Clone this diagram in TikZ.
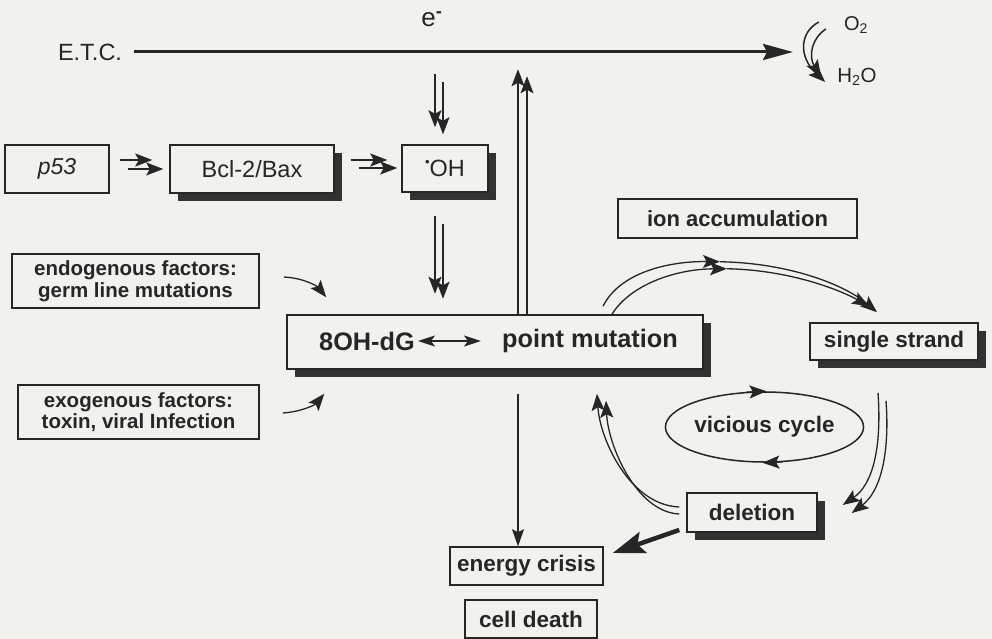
\documentclass[tikz,border=0pt]{standalone}
\usepackage{fontspec}
\setmainfont{Liberation Sans}
\usetikzlibrary{arrows.meta,shadows,calc,shapes.geometric}
\definecolor{paper}{RGB}{241,241,238}
\definecolor{ink}{RGB}{38,38,38}
\definecolor{shade}{RGB}{50,50,50}
\newcommand\bxfont{\fontsize{22.5}{24}\selectfont\bfseries}
\newcommand\bigfont{\fontsize{25.3}{27}\selectfont\bfseries}
\newcommand\twofont{\fontsize{20.5}{21.5}\selectfont\bfseries}
\newcommand\regfont{\fontsize{23.5}{25}\selectfont}
\tikzset{
  box/.style={draw=ink, line width=1.5pt, fill=paper, inner sep=0pt, text=ink, align=center},
  shbox/.style={box, drop shadow={shadow xshift=8pt, shadow yshift=-8pt, fill=shade, opacity=1}},
  lbl/.style={text=ink, inner sep=0pt},
  ar/.style={draw=ink, line width=1.3pt, -{Stealth[length=17pt,width=13pt,inset=3.5pt]}},
  thinar/.style={draw=ink, line width=1.2pt, -{Stealth[length=17pt,width=12pt,inset=3pt]}},
  bigar/.style={draw=ink, line width=3pt, -{Stealth[length=30pt,width=16pt,inset=4pt]}},
  fatar/.style={draw=ink, line width=4.5pt, -{Stealth[length=32pt,width=22pt,inset=6pt]}},
}
\begin{document}
\begin{tikzpicture}[x=1pt,y=-1pt]
\fill[paper] (0,0) rectangle (992,639);
\useasboundingbox (0,0) rectangle (992,639);

% labels
\node[lbl, font=\regfont] (etc) at (90,52) {E.T.C.};
\node[lbl, font=\fontsize{26}{28}\selectfont] (el) at (432,19) {e\textsuperscript{\bfseries -}};
\node[lbl, font=\fontsize{20}{22}\selectfont] (o2) at (856,25) {O\textsubscript{2}};
\node[lbl, font=\fontsize{20.5}{22}\selectfont] (h2o) at (857,77) {H\textsubscript{2}O};
\coordinate (etcend) at (793,52);

% boxes
\node[box, minimum width=104pt, minimum height=48pt, font=\fontsize{23}{25}\selectfont\itshape] (p53) at (57,169) {p53};
\node[shbox, minimum width=164pt, minimum height=48pt, font=\regfont] (bcl) at (252,169) {Bcl-2/Bax};
\node[shbox, minimum width=86pt, minimum height=47pt, font=\regfont] (oh) at (445,168.5) {\raisebox{0.42em}{\fontsize{13}{13}\selectfont\textbullet}OH};
\node[box, minimum width=247pt, minimum height=54pt, font=\twofont] (endo) at (135.5,281) {endogenous factors:\\germ line mutations};
\node[box, minimum width=241pt, minimum height=54pt, font=\twofont] (exo) at (138.5,412) {exogenous factors:\\toxin, viral Infection};
\node[shbox, minimum width=416pt, minimum height=54pt] (pm) at (495,342) {};
\node[lbl, font=\bigfont] (dg) at (367,341) {8OH-dG};
\node[lbl, font=\bigfont] (pmt) at (590,341) {point mutation};
\node[box, minimum width=239pt, minimum height=39pt, font=\fontsize{22}{24}\selectfont\bfseries] (ion) at (737.5,218.5) {ion accumulation};
\node[shbox, minimum width=168pt, minimum height=37pt, font=\bxfont] (ss) at (894,341.5) {single strand};
\node[box, ellipse, fill=none, minimum width=197pt, minimum height=70pt, font=\bxfont] (vc) at (764.5,427) {vicious cycle};
\node[shbox, minimum width=130pt, minimum height=39pt, font=\bxfont] (del) at (752,512.5) {deletion};
\node[box, minimum width=153pt, minimum height=38pt, font=\bxfont] (ec) at (526.5,566) {energy crisis};
\node[box, minimum width=132pt, minimum height=38pt, font=\bxfont] (cd) at (531,619) {cell death};

% E.T.C. line
\draw[bigar] ($(etc.east)+(12,0)$) -- (etcend);
% O2 -> H2O
\draw[ar, line width=1.5pt] ($(o2.west)+(-25,-3)$) .. controls (800,32) and (798,56) .. ($(h2o.west)+(-12,5)$);
\draw[ar, line width=1.5pt] ($(o2.west)+(-18,4)$) .. controls (812,38) and (808,56) .. ($(h2o.west)+(-16,0)$);

% into OH from ETC
\draw[ar] ($(oh.north)+(-10,-70)$) -- ($(oh.north)+(-10,-17)$);
\draw[ar] ($(oh.north)+(-2,-62)$) -- ($(oh.north)+(-2,-10)$);
% OH -> pm
\draw[ar] ($(oh.south)+(-10,23)$) -- ($(oh.south)+(-10,101)$);
\draw[ar] ($(oh.south)+(-2,31)$) -- ($(oh.south)+(-2,106)$);
% pm -> ETC
\draw[ar] ($(pm.north)+(23,0)$) -- ($(pm.north)+(23,-245)$);
\draw[ar] ($(pm.north)+(32,0)$) -- ($(pm.north)+(32,-238)$);

% p53 -> bcl -> oh
\draw[ar] ($(p53.east)+(10,-9)$) -- ($(bcl.west)+(-17,-9)$);
\draw[ar] ($(p53.east)+(18,0)$) -- ($(bcl.west)+(-6,0)$);
\draw[ar] ($(bcl.east)+(16,-9)$) -- ($(oh.west)+(-14,-8.5)$);
\draw[ar] ($(bcl.east)+(24,-1)$) -- ($(oh.west)+(-4,-0.5)$);

% 8OH-dG <-> point mutation
\draw[draw=ink, line width=1.4pt, {Stealth[length=17pt,width=11pt,inset=4pt]}-{Stealth[length=17pt,width=11pt,inset=4pt]}] ($(dg.east)+(3,0)$) -- ($(pmt.west)+(-21,0)$);

% factors -> pm
\draw[ar] ($(endo.east)+(24,-4)$) .. controls (305,278) and (318,287) .. ($(pm.north west)+(40,-17)$);
\draw[ar] ($(exo.east)+(23,1)$) .. controls (300,412) and (315,405) .. ($(pm.south west)+(38,24)$);

% pm -> energy crisis
\draw[thinar] ($(pm.south)+(23,24)$) coordinate (pmd) -- (pmd |- ec.north);

% deletion -> energy crisis
\draw[fatar] ($(del.west)+(-7,17.5)$) -- ($(ec.east)+(9,-13)$);

% deletion -> pm
\draw[ar] ($(del.west)+(-7,-5.5)$) .. controls (630,505) and (600,440) .. ($(pm.south)+(102,24)$);
\draw[ar] ($(del.west)+(-7,1.5)$) .. controls (636,512) and (608,445) .. ($(pm.south)+(111,31)$);

% pm -> (ion) -> single strand
\coordinate (m1) at ($(ion.south)+(-17.5,23)$);
\coordinate (m2) at ($(ion.south)+(-10.5,30)$);
\draw[ar] ($(pm.north)+(108,-8)$) .. controls (620,272) and (670,261) .. (m1);
\draw[ar] (m1) .. controls (790,263) and (845,285) .. ($(ss.north)+(-17,-10)$);
\draw[ar] ($(pm.north)+(117,0)$) .. controls (630,285) and (675,269) .. (m2);
\draw[ar] (m2) .. controls (790,270) and (840,290) .. ($(ss.north)+(-25,-16)$);

% single strand -> deletion
\draw[ar] ($(ss.south)+(-16,32)$) .. controls (882,450) and (872,485) .. ($(del.east)+(25,-7.5)$);
\draw[ar] ($(ss.south)+(-8,40)$) .. controls (890,455) and (880,492) .. ($(del.east)+(34,0.5)$);

% vicious cycle arrows
\draw[ar] ($(vc.north)+(-18,0.8)$) -- ($(vc.north)+(2,0)$);
\draw[ar] ($(vc.south)+(18,-0.8)$) -- ($(vc.south)+(-2,0)$);
\end{tikzpicture}
\end{document}
